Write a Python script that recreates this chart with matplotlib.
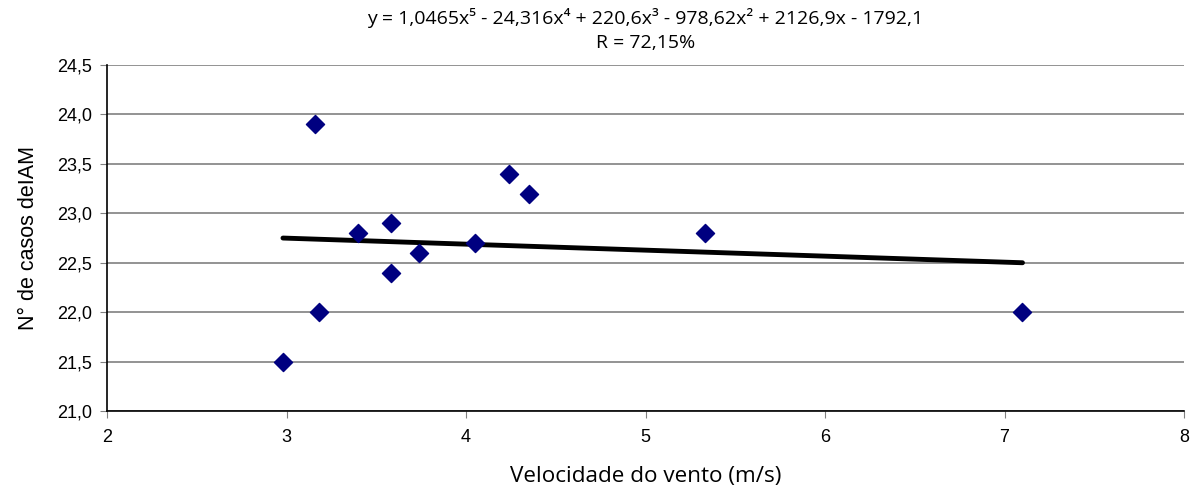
import matplotlib
matplotlib.use("Agg")
import matplotlib.pyplot as plt
from matplotlib.ticker import FuncFormatter

# ============================================================
# Data
# ============================================================
wind_speed = [2.98, 3.16, 3.18, 3.40, 3.58, 3.58, 3.74, 4.05, 4.24, 4.35, 5.33, 7.10]
iam_cases = [21.5, 23.9, 22.0, 22.8, 22.9, 22.4, 22.6, 22.7, 23.4, 23.2, 22.8, 22.0]

trend_x = [2.98, 7.10]
trend_y = [22.75, 22.50]

x_ticks = [2, 3, 4, 5, 6, 7, 8]
y_ticks = [21.0, 21.5, 22.0, 22.5, 23.0, 23.5, 24.0, 24.5]

title_text = ("y = 1,0465x\u2075 - 24,316x\u2074 + 220,6x\u00b3 - 978,62x\u00b2 + 2126,9x - 1792,1\n"
              "R = 72,15%")

# ============================================================
# Plot
# ============================================================
fig = plt.figure(figsize=(11.96, 4.93), dpi=100)
ax = fig.add_axes([0.0895, 0.1663, 0.9005, 0.7017])

ax.plot(trend_x, trend_y, color="black", linewidth=3.5, solid_capstyle="round", zorder=2)
ax.scatter(wind_speed, iam_cases, marker="D", s=85, color="#000080", zorder=3)

ax.set_xlim(2, 8)
ax.set_ylim(21.0, 24.5)
ax.set_xticks(x_ticks)
ax.set_yticks(y_ticks)
ax.yaxis.set_major_formatter(FuncFormatter(lambda v, p: f"{v:.1f}".replace(".", ",")))

ax.grid(axis="y", color="#808080", linewidth=1.2)
ax.set_axisbelow(True)
for side in ["top", "right"]:
    ax.spines[side].set_visible(False)
for side in ["left", "bottom"]:
    ax.spines[side].set_color("black")
    ax.spines[side].set_linewidth(1.2)

ax.tick_params(axis="y", direction="out", length=5, labelsize=13, pad=6, color="#808080")
ax.tick_params(axis="x", direction="out", length=5, labelsize=13, pad=8, color="#808080")
for lbl in ax.get_yticklabels() + ax.get_xticklabels():
    lbl.set_fontfamily("Liberation Sans")

ax.set_ylabel("N° de casos deIAM", fontsize=15.5, family="Liberation Sans", labelpad=13)
ax.set_xlabel("Velocidade do vento (m/s)", fontsize=16.2,
              family=["Open Sans", "DejaVu Sans"], labelpad=14)
ax.set_title(title_text, fontsize=14, family=["Open Sans", "DejaVu Sans"],
             linespacing=1.45, pad=12)

fig.savefig("out.png", dpi=100)
